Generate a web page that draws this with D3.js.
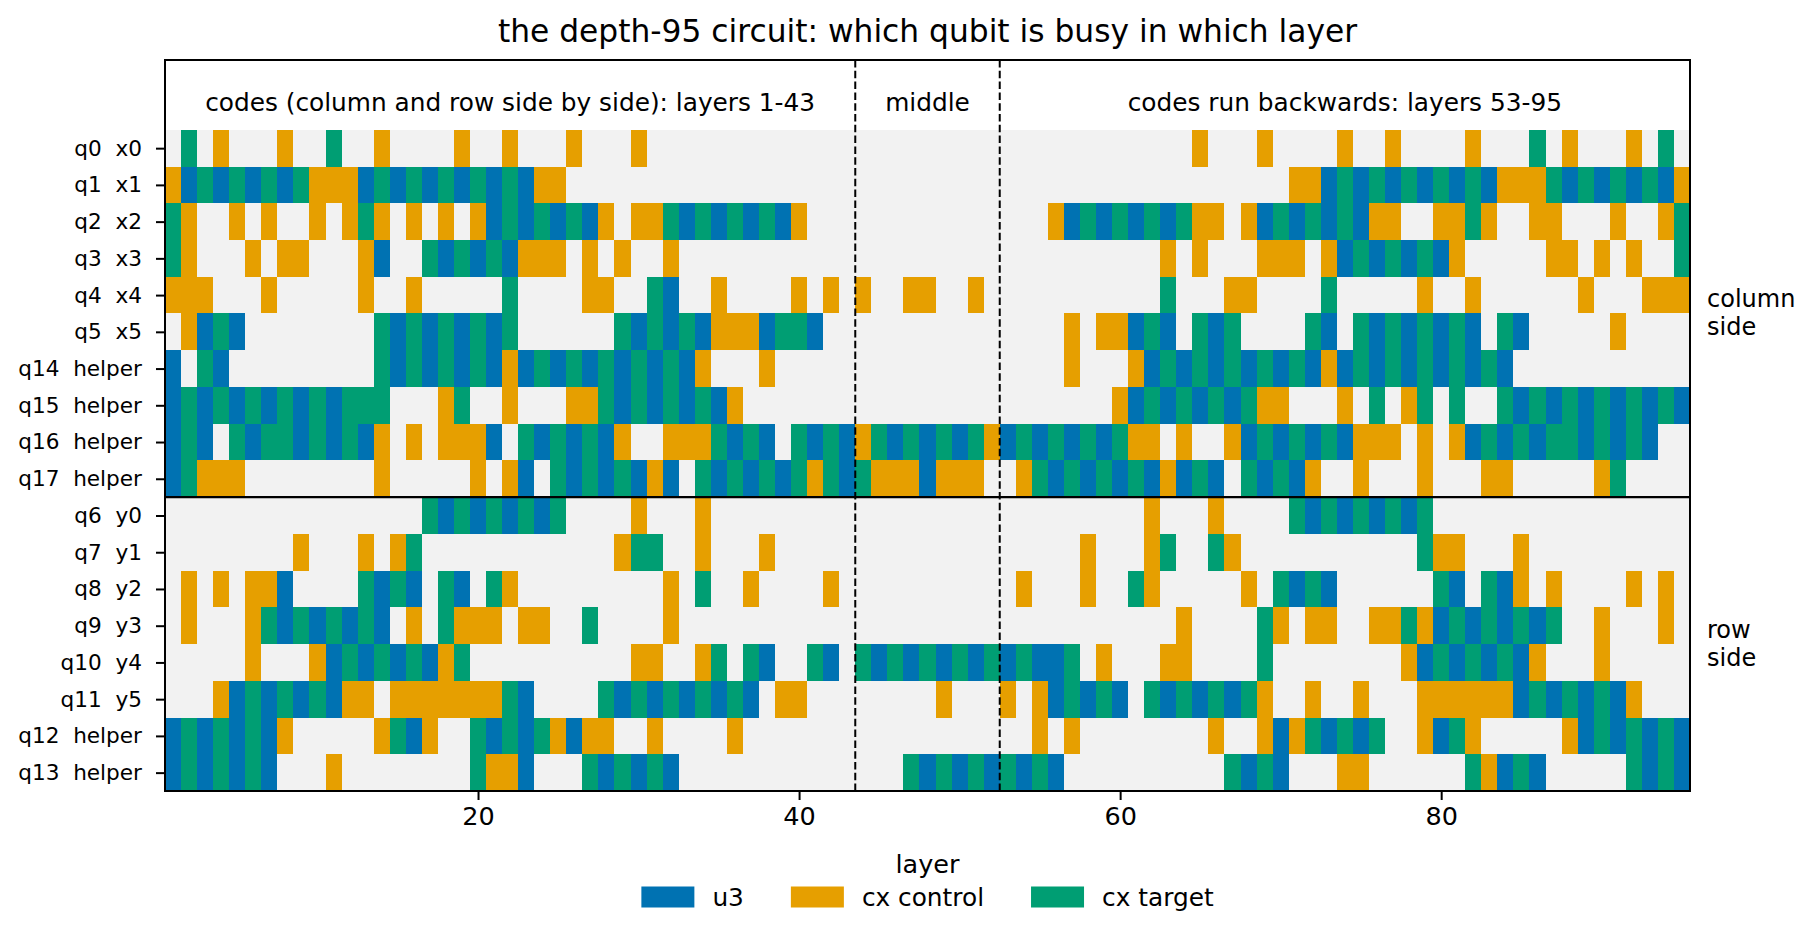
<!DOCTYPE html>
<html><head><meta charset="utf-8">
<script src="https://cdn.jsdelivr.net/npm/d3@7"></script>
<style>
body{margin:0;background:#fff;}
text{font-family:"DejaVu Sans", sans-serif;fill:#000;}
</style></head><body>
<svg id="chart" width="1814" height="929"></svg>
<script>
// ---------------- data ----------------
const rowLabels = [
  "q0  x0","q1  x1","q2  x2","q3  x3","q4  x4","q5  x5",
  "q14  helper","q15  helper","q16  helper","q17  helper",
  "q6  y0","q7  y1","q8  y2","q9  y3","q10  y4","q11  y5",
  "q12  helper","q13  helper"
];
const gateKinds = ["u3","cx control","cx target"];
const gateColors = ["#0072B2","#E69F00","#009E73"];
// one character per layer 1..95: B = u3, O = cx control, G = cx target, . = idle
const busyRows = [
  ".G.O...O.." + "G..O....O." + ".O...O...O" + ".........." + ".........." + ".........." + "....O...O." + "...O..O..." + ".O...G.O.." + ".O.G.",
  "OBGBGBGBGO" + "OOBGBGBGBG" + "BGBOO....." + ".........." + ".........." + ".........." + ".........." + "OOBGBGBGBG" + "BGBOOOGBGB" + "GBGBO",
  "GO..O.O..O" + ".OGO.O.O.O" + "BGBGBGBO.O" + "OGBGBGBGBO" + ".........." + ".....OBGBG" + "BGBGOO.OBG" + "BGBGBOO..O" + "OGO..OO..." + "O..OG",
  "GO...O.OO." + "..OB..GBGB" + "GBOOO.O.O." + ".O........" + ".........." + ".........." + "..O.O...OO" + "O.OBGBGBGB" + "O.....OO.O" + ".O..G",
  "OOO...O..." + "..O..O...." + ".G....OO.." + "GB..O....O" + ".O.O..OO.." + "O........." + "..G...OO.." + "..G.....O." + ".O......O." + "..OOO",
  ".OBGB....." + "...GBGBGBG" + "BG......GB" + "GBGBOOOBGG" + "B........." + "......O.OO" + "BGB.GBG..." + ".GB.GBGBGB" + "GB.GB....." + "O....",
  "B.GB......" + "...GBGBGBG" + "BOBGBGBGBG" + "BGBO...O.." + ".........." + "......O..." + "OBGBGBGBGB" + "GBOBGBGBGB" + "GBGB......" + ".....",
  "BGBGBGBGBG" + "BGGG...OG." + ".O...OOGBG" + "BGBGBO...." + ".........." + ".........O" + "BGBGBGBGOO" + "...O.G.OG." + "G..GBGBGBG" + "BGBGB",
  "BGB.GBGGBG" + "BGBO.O.OOO" + "B.GBGBGBO." + ".OOOGBGB.G" + "BGBOGBGBGB" + "GOBGBGBGBG" + "OO.O..OBGB" + "GBGBOOO.O." + "OBGBGBGGBG" + "BGB..",
  "BGOOO....." + "...O.....O" + ".OB.GBGBGB" + "OB.GBGBGBG" + "OGBGOOOBOO" + "O..OGBGBGB" + "GBOBGB.GBG" + "BO..O...O." + "..OO.....O" + "G....",
  ".........." + "......GBGB" + "GBGBG....O" + "...O......" + ".........." + ".........." + ".O...O...." + "GBGBGBGBG." + ".........." + ".....",
  "........O." + "..O.OG...." + "........OG" + "G..O...O.." + ".........." + ".......O.." + ".OG..GO..." + "........GO" + "O...O....." + ".....",
  ".O.O.OOB.." + "..GBGB.GB." + "GO........" + ".O.G..O..." + ".O........" + "...O...O.." + "GO.....O.G" + "BGB......G" + "B.GBO.O..." + ".O.O.",
  ".O...OGBGB" + "GBGB.O.GOO" + "O.OO..G..." + ".O........" + ".........." + ".........." + "...O....GO" + ".OO..OOGOB" + "GBGBGBG..O" + "...O.",
  ".....O...O" + "BGBGBGBOG." + ".........O" + "O..OG.GB.." + "GB.GBGBGBG" + "BGBGBBG.O." + "..OO....G." + ".......OBG" + "BGBGBO...O" + ".....",
  "...OBGBGBG" + "BOO.OOOOOO" + "OGB....GBG" + "BGBGBGB.OO" + "........O." + "..O.OBGBGB" + ".GBGBGBGO." + ".O..O...OO" + "OOOOBGBGBG" + "BO...",
  "BGBGBGBO.." + "...OGBO..G" + "BGBGOBOO.." + "O....O...." + ".........." + "....O.O..." + ".....O..OB" + "OGBGBG..OB" + "GO.....OBG" + "BGBGB",
  "BGBGBGB..." + "O........G" + "OOB...GBGB" + "GB........" + "......GBGB" + "GBGBGB...." + "......GBGB" + "...OO....." + ".GOBGB...." + ".GBGB"
];
const codeIndex = {B:0, O:1, G:2};
const xTickValues = [20, 40, 60, 80];
const sections = [
  {label:"codes (column and row side by side): layers 1-43", from:1, to:43},
  {label:"middle", from:44, to:52},
  {label:"codes run backwards: layers 53-95", from:53, to:95}
];
const phaseBreaks = [43.5, 52.5];
const groupBreaks = [9.5];
const sideLabels = [{lines:["column","side"], from:0, to:9}, {lines:["row","side"], from:10, to:17}];
const titleText = "the depth-95 circuit: which qubit is busy in which layer";
const xLabelText = "layer";

(function draw() {
  const nLayers = 95;
  const svg = d3.select("#chart");
  const pL = 165, pR = 1690, pT = 60, pB = 791;
  const x = d3.scaleLinear().domain([0.5, nLayers + 0.5]).range([pL, pR]);
  const y = d3.scaleLinear().domain([-2.4, rowLabels.length - 0.5]).range([pT, pB]);

  const cells = [];
  busyRows.forEach((s, r) => {
    for (let k = 1; k <= nLayers; k++) {
      const c = s[k - 1];
      cells.push({row: r, layer: k, kind: c in codeIndex ? codeIndex[c] : -1});
    }
  });
  svg.append("g").selectAll("rect").data(cells).join("rect")
    .attr("x", d => x(d.layer - 0.5))
    .attr("width", d => x(d.layer + 0.5) - x(d.layer - 0.5))
    .attr("y", d => y(d.row - 0.5))
    .attr("height", d => y(d.row + 0.5) - y(d.row - 0.5))
    .attr("fill", d => d.kind < 0 ? "#f2f2f2" : gateColors[d.kind])
    .attr("shape-rendering", "crispEdges");

  svg.append("g").selectAll("line").data(phaseBreaks).join("line")
    .attr("x1", d => x(d)).attr("x2", d => x(d))
    .attr("y1", pT).attr("y2", pB)
    .attr("stroke", "#000").attr("stroke-width", 2)
    .attr("stroke-dasharray", "7.5,3.3");

  svg.append("g").selectAll("line").data(groupBreaks).join("line")
    .attr("x1", pL).attr("x2", pR)
    .attr("y1", d => y(d)).attr("y2", d => y(d))
    .attr("stroke", "#000").attr("stroke-width", 2.2);

  svg.append("g").selectAll("text").data(sections).join("text")
    .attr("x", d => x((d.from + d.to) / 2))
    .attr("y", y(-1.24))
    .attr("text-anchor", "middle")
    .attr("dominant-baseline", "central")
    .attr("font-size", 24.8)
    .text(d => d.label);

  svg.append("rect").attr("x", pL).attr("y", pT)
    .attr("width", pR - pL).attr("height", pB - pT)
    .attr("fill", "none").attr("stroke", "#000").attr("stroke-width", 2);

  const yAxis = d3.axisLeft(y).tickValues(d3.range(rowLabels.length))
    .tickFormat(i => rowLabels[i]).tickSize(9).tickPadding(14);
  const ya = svg.append("g").attr("transform", `translate(${pL},0)`).call(yAxis);
  ya.select(".domain").remove();
  ya.selectAll(".tick line").attr("stroke", "#000").attr("stroke-width", 2);
  ya.selectAll(".tick text").attr("font-size", 21.6).attr("font-family", "DejaVu Sans").style("white-space", "pre");

  const xAxis = d3.axisBottom(x).tickValues(xTickValues).tickSize(9).tickPadding(7);
  const xa = svg.append("g").attr("transform", `translate(0,${pB})`).call(xAxis);
  xa.select(".domain").remove();
  xa.selectAll(".tick line").attr("stroke", "#000").attr("stroke-width", 2);
  xa.selectAll(".tick text").attr("font-size", 25.5).attr("font-family", "DejaVu Sans");

  svg.append("text").attr("x", (pL + pR) / 2).attr("y", 864)
    .attr("text-anchor", "middle").attr("dominant-baseline", "central")
    .attr("font-size", 25.5).text(xLabelText);

  svg.append("text").attr("x", (pL + pR) / 2).attr("y", 31)
    .attr("text-anchor", "middle").attr("dominant-baseline", "central")
    .attr("font-size", 31.3).text(titleText);

  sideLabels.forEach(sl => {
    const cy = y((sl.from + sl.to) / 2);
    const t = svg.append("text").attr("x", 1707).attr("font-size", 24);
    sl.lines.forEach((ln, i) => {
      t.append("tspan").attr("x", 1707)
        .attr("y", cy + (i - (sl.lines.length - 1) / 2) * 28)
        .attr("dominant-baseline", "central").text(ln);
    });
  });

  const legY = 897, patchW = 53, patchH = 21, gapText = 18, gapItem = 47;
  const leg = svg.append("g");
  const items = gateKinds.map((k, i) => {
    const it = leg.append("g");
    it.append("rect").attr("x", 0).attr("y", -patchH / 2).attr("width", patchW).attr("height", patchH)
      .attr("fill", gateColors[i]);
    const tx = it.append("text").attr("x", patchW + gapText).attr("y", 0)
      .attr("dominant-baseline", "central").attr("font-size", 24.8).text(k);
    return {g: it, w: patchW + gapText + tx.node().getComputedTextLength()};
  });
  const totalW = d3.sum(items, d => d.w) + gapItem * (items.length - 1);
  let cx = (pL + pR) / 2 - totalW / 2;
  items.forEach(it => { it.g.attr("transform", `translate(${cx},${legY})`); cx += it.w + gapItem; });
})();
</script>
</body></html>
